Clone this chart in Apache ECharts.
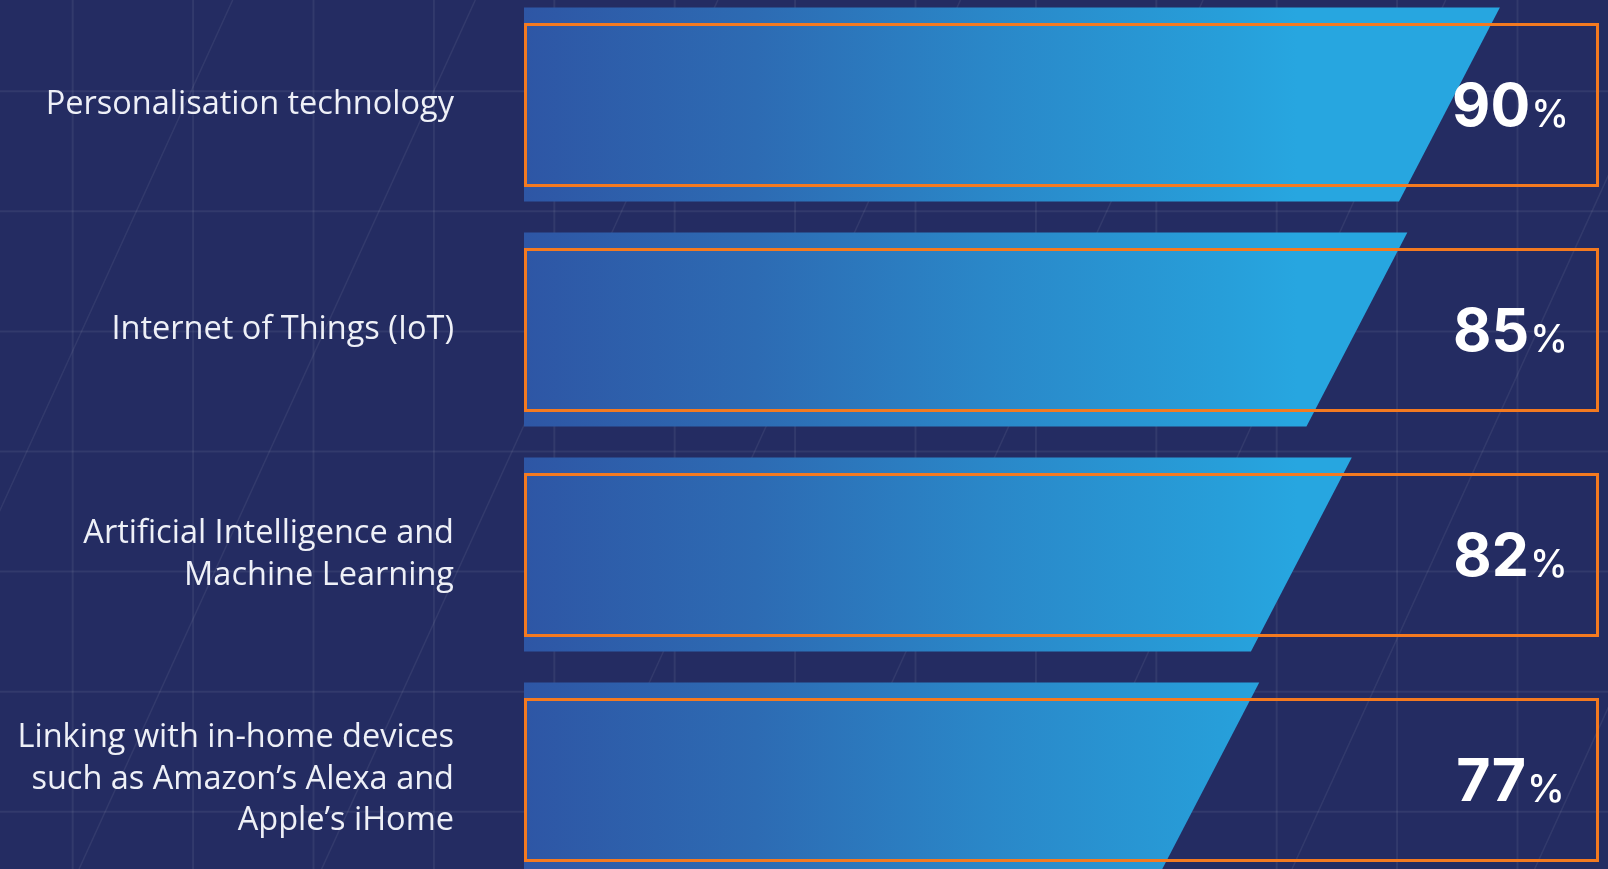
<!DOCTYPE html>
<html>
<head>
<meta charset="utf-8">
<script src="https://cdn.jsdelivr.net/npm/echarts@6/dist/echarts.min.js"></script>
<style>
  html, body { margin: 0; padding: 0; background: #242C62; }
  #chart { width: 1608px; height: 869px; }
</style>
</head>
<body>
<div id="chart"></div>
<script>
// ---- data ----
const categories = [
  'Personalisation technology',
  'Internet of Things (IoT)',
  'Artificial Intelligence and\nMachine Learning',
  'Linking with in-home devices\nsuch as Amazon\u2019s Alexa and\nApple\u2019s iHome'
];
const values = [90, 85, 82, 77];
const axisMin = 40;
const axisMax = 98;

// ---- styling ----
const BG = '#242C62';
const GRID_LINE = 'rgba(255,255,255,0.065)';
const ORANGE = '#F47A20';

// decorative background lines
const bgGraphics = [];
for (let k = 0; k < 13; k++) {
  const x = 72.7 + 120.4 * k;
  bgGraphics.push({ type: 'line', silent: true, z: 0,
    shape: { x1: x, y1: 0, x2: x, y2: 869 },
    style: { stroke: GRID_LINE, lineWidth: 2 } });
}
for (let k = 0; k < 7; k++) {
  const y = 91.2 + 120.1 * k;
  bgGraphics.push({ type: 'line', silent: true, z: 0,
    shape: { x1: 0, y1: y, x2: 1608, y2: y },
    style: { stroke: GRID_LINE, lineWidth: 2 } });
}
for (let k = 0; k < 8; k++) {
  const x0 = 232.7 + 242.6 * k;
  bgGraphics.push({ type: 'line', silent: true, z: 0,
    shape: { x1: x0, y1: 0, x2: x0 - 0.456 * 869, y2: 869 },
    style: { stroke: GRID_LINE, lineWidth: 1.5 } });
}

const chart = echarts.init(document.getElementById('chart'), null, { renderer: 'canvas' });

function renderItem(params, api) {
  const v = api.value(0);
  const cat = api.value(1);
  const start = api.coord([axisMin, cat]);
  const end = api.coord([v, cat]);
  const right = api.coord([axisMax, cat]);
  const band = api.size([0, 1])[1];
  const barH = band * 0.862;
  const boxH = band * 0.716;
  const slant = barH * 0.52;
  const cy = start[1];
  const top = cy - barH / 2;
  const bottom = cy + barH / 2;
  const left = start[0];
  const gradEnd = left + 0.72 * (right[0] - left);
  return {
    type: 'group',
    children: [
      {
        type: 'polygon',
        shape: { points: [
          [left, top],
          [end[0] + slant / 2, top],
          [end[0] - slant / 2, bottom],
          [left, bottom]
        ] },
        style: {
          fill: new echarts.graphic.LinearGradient(left, 0, gradEnd, 0, [
            { offset: 0, color: '#2E56A5' },
            { offset: 0.3, color: '#2D6BB3' },
            { offset: 0.6, color: '#2A87C8' },
            { offset: 0.9, color: '#279ED9' },
            { offset: 1, color: '#27A6E0' }
          ], true)
        }
      },
      {
        type: 'rect',
        shape: { x: left + 1.5, y: Math.round(cy - boxH / 2) + 0.5, width: right[0] - left - 1.5, height: Math.round(boxH) },
        style: { fill: null, stroke: ORANGE, lineWidth: 3 }
      },
      {
        type: 'text',
        x: right[0] - 87,
        y: cy + 2,
        style: {
          text: '{a|' + v + '}{b|%}',
          align: 'center',
          verticalAlign: 'middle',
          rich: {
            a: { fontFamily: 'Inter', fontWeight: 700, fontSize: 59, lineHeight: 62, fill: '#FFFFFF', verticalAlign: 'bottom' },
            b: { fontFamily: 'Inter', fontWeight: 500, fontSize: 38, lineHeight: 40, fill: '#FFFFFF', verticalAlign: 'bottom', padding: [0, 0, 3, 1] }
          }
        }
      }
    ]
  };
}

chart.setOption({
  backgroundColor: BG,
  animation: false,
  graphic: bgGraphics,
  grid: {
    left: 524, right: 10.5, top: -8, height: 900,
    containLabel: false, outerBoundsMode: 'none'
  },
  xAxis: {
    type: 'value', min: axisMin, max: axisMax, show: false
  },
  yAxis: {
    type: 'category',
    data: categories,
    inverse: true,
    axisLine: { show: false },
    axisTick: { show: false },
    splitLine: { show: false },
    axisLabel: {
      margin: 70,
      fontFamily: 'Open Sans',
      fontSize: 32.5,
      lineHeight: 41.5,
      color: '#EEF0F7',
      align: 'right'
    }
  },
  series: [{
    type: 'custom',
    renderItem: renderItem,
    encode: { x: 0, y: 1 },
    data: values.map((v, i) => [v, i]),
    z: 2
  }]
});
</script>
</body>
</html>
